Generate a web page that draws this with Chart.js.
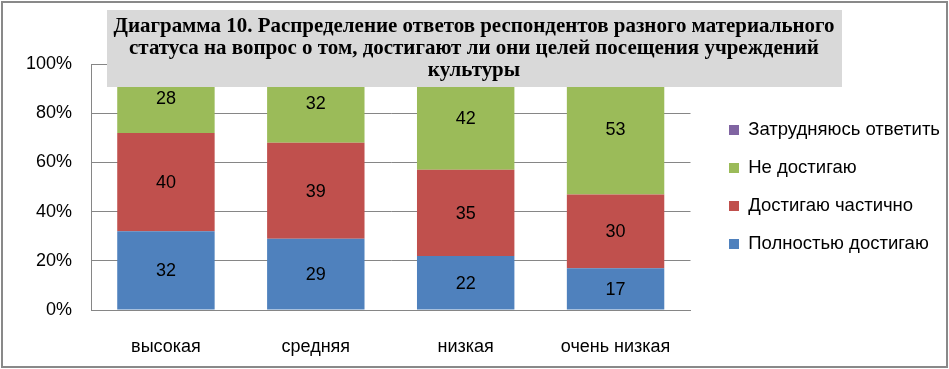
<!DOCTYPE html>
<html lang="ru">
<head>
    <meta charset="UTF-8">
    <title>Диаграмма 10</title>
    <script src="https://cdn.jsdelivr.net/npm/chart.js"></script>
    <style>
        body { margin: 0; background: #fff; }
        #wrap { position: relative; width: 949px; height: 369px; }
    </style>
</head>
<body>
<div id="wrap"><canvas id="chart" width="949" height="369"></canvas></div>
<script>
    // данные
    const categories = ['высокая', 'средняя', 'низкая', 'очень низкая'];
    const fullyReach = [32, 29, 22, 17];      // Полностью достигаю
    const partlyReach = [40, 39, 35, 30];     // Достигаю частично
    const notReach = [28, 32, 42, 53];        // Не достигаю
    const hardToSay = [0, 0, 1, 0];           // Затрудняюсь ответить
    const yTicks = [0, 20, 40, 60, 80, 100];
    const titleLines = [
        'Диаграмма 10. Распределение ответов респондентов разного материального',
        'статуса на вопрос о том, достигают ли они целей посещения учреждений',
        'культуры'
    ];

    const FONT = '"Liberation Sans", Arial, sans-serif';

    // подписи значений в центре сегментов
    const valueLabels = {
        id: 'valueLabels',
        afterDatasetsDraw(chart) {
            const ctx = chart.ctx;
            ctx.save();
            ctx.font = '18px ' + FONT;
            ctx.fillStyle = '#000';
            ctx.textAlign = 'center';
            ctx.textBaseline = 'middle';
            chart.data.datasets.forEach((ds, i) => {
                const meta = chart.getDatasetMeta(i);
                meta.data.forEach((bar, j) => {
                    const v = ds.data[j];
                    if (!v) return;
                    ctx.fillText(String(v), bar.x, (bar.y + bar.base) / 2 + 1);
                });
            });
            ctx.restore();
        }
    };

    // серая плашка заголовка поверх области графика + рамка
    const titleBox = {
        id: 'titleBox',
        afterDraw(chart) {
            const ctx = chart.ctx;
            ctx.save();
            ctx.fillStyle = '#d9d9d9';
            ctx.fillRect(107, 10, 735, 77);
            ctx.font = 'bold 21px "Liberation Serif", "Times New Roman", serif';
            ctx.fillStyle = '#000';
            ctx.textAlign = 'center';
            ctx.textBaseline = 'alphabetic';
            const s = 721 / ctx.measureText(titleLines[0]).width;
            const baselines = [32, 54, 76];
            titleLines.forEach((line, i) => {
                ctx.save();
                ctx.translate(474, baselines[i]);
                ctx.scale(s, 1);
                ctx.fillText(line, 0, 0);
                ctx.restore();
            });
            ctx.strokeStyle = '#898989';
            ctx.lineWidth = 2;
            ctx.strokeRect(2, 2, 945, 365);
            ctx.restore();
        }
    };

    new Chart(document.getElementById('chart'), {
        type: 'bar',
        data: {
            labels: categories,
            datasets: [
                { label: 'Полностью достигаю', data: fullyReach, backgroundColor: '#4f81bd' },
                { label: 'Достигаю частично', data: partlyReach, backgroundColor: '#c0504d' },
                { label: 'Не достигаю', data: notReach, backgroundColor: '#9bbb59' },
                { label: 'Затрудняюсь ответить', data: hardToSay, backgroundColor: '#8064a2' }
            ]
        },
        options: {
            responsive: false,
            animation: false,
            categoryPercentage: 0.65,
            barPercentage: 1,
            layout: { padding: { left: 26, top: 64, right: -1, bottom: 11 } },
            plugins: {
                title: { display: false },
                tooltip: { enabled: false },
                legend: {
                    position: 'right',
                    fullSize: false,
                    reverse: true,
                    maxWidth: 260,
                    labels: {
                        boxWidth: 10,
                        boxHeight: 10,
                        padding: 19.5,
                        color: '#000',
                        font: { family: FONT, size: 18.5 }
                    }
                }
            },
            scales: {
                x: {
                    stacked: true,
                    grid: { display: false, drawTicks: false },
                    border: { color: '#868686' },
                    ticks: { color: '#000', padding: 26, font: { family: FONT, size: 18 } },
                    afterFit: axis => { axis.height = 48; }
                },
                y: {
                    stacked: true,
                    min: 0,
                    max: 100,
                    afterBuildTicks: axis => { axis.ticks = yTicks.map(v => ({ value: v })); },
                    grid: { color: '#868686', drawTicks: false },
                    border: { color: '#868686' },
                    ticks: {
                        color: '#000',
                        padding: 19,
                        font: { family: FONT, size: 18 },
                        callback: v => v + '%'
                    },
                    afterFit: axis => { axis.width = 65; }
                },
                // пустая ось-отступ между графиком и легендой
                gap: {
                    position: 'right',
                    display: true,
                    grid: { display: false, drawTicks: false },
                    border: { display: false },
                    ticks: { display: false },
                    afterFit: axis => { axis.width = 19; }
                }
            }
        },
        plugins: [valueLabels, titleBox]
    });
</script>
</body>
</html>
